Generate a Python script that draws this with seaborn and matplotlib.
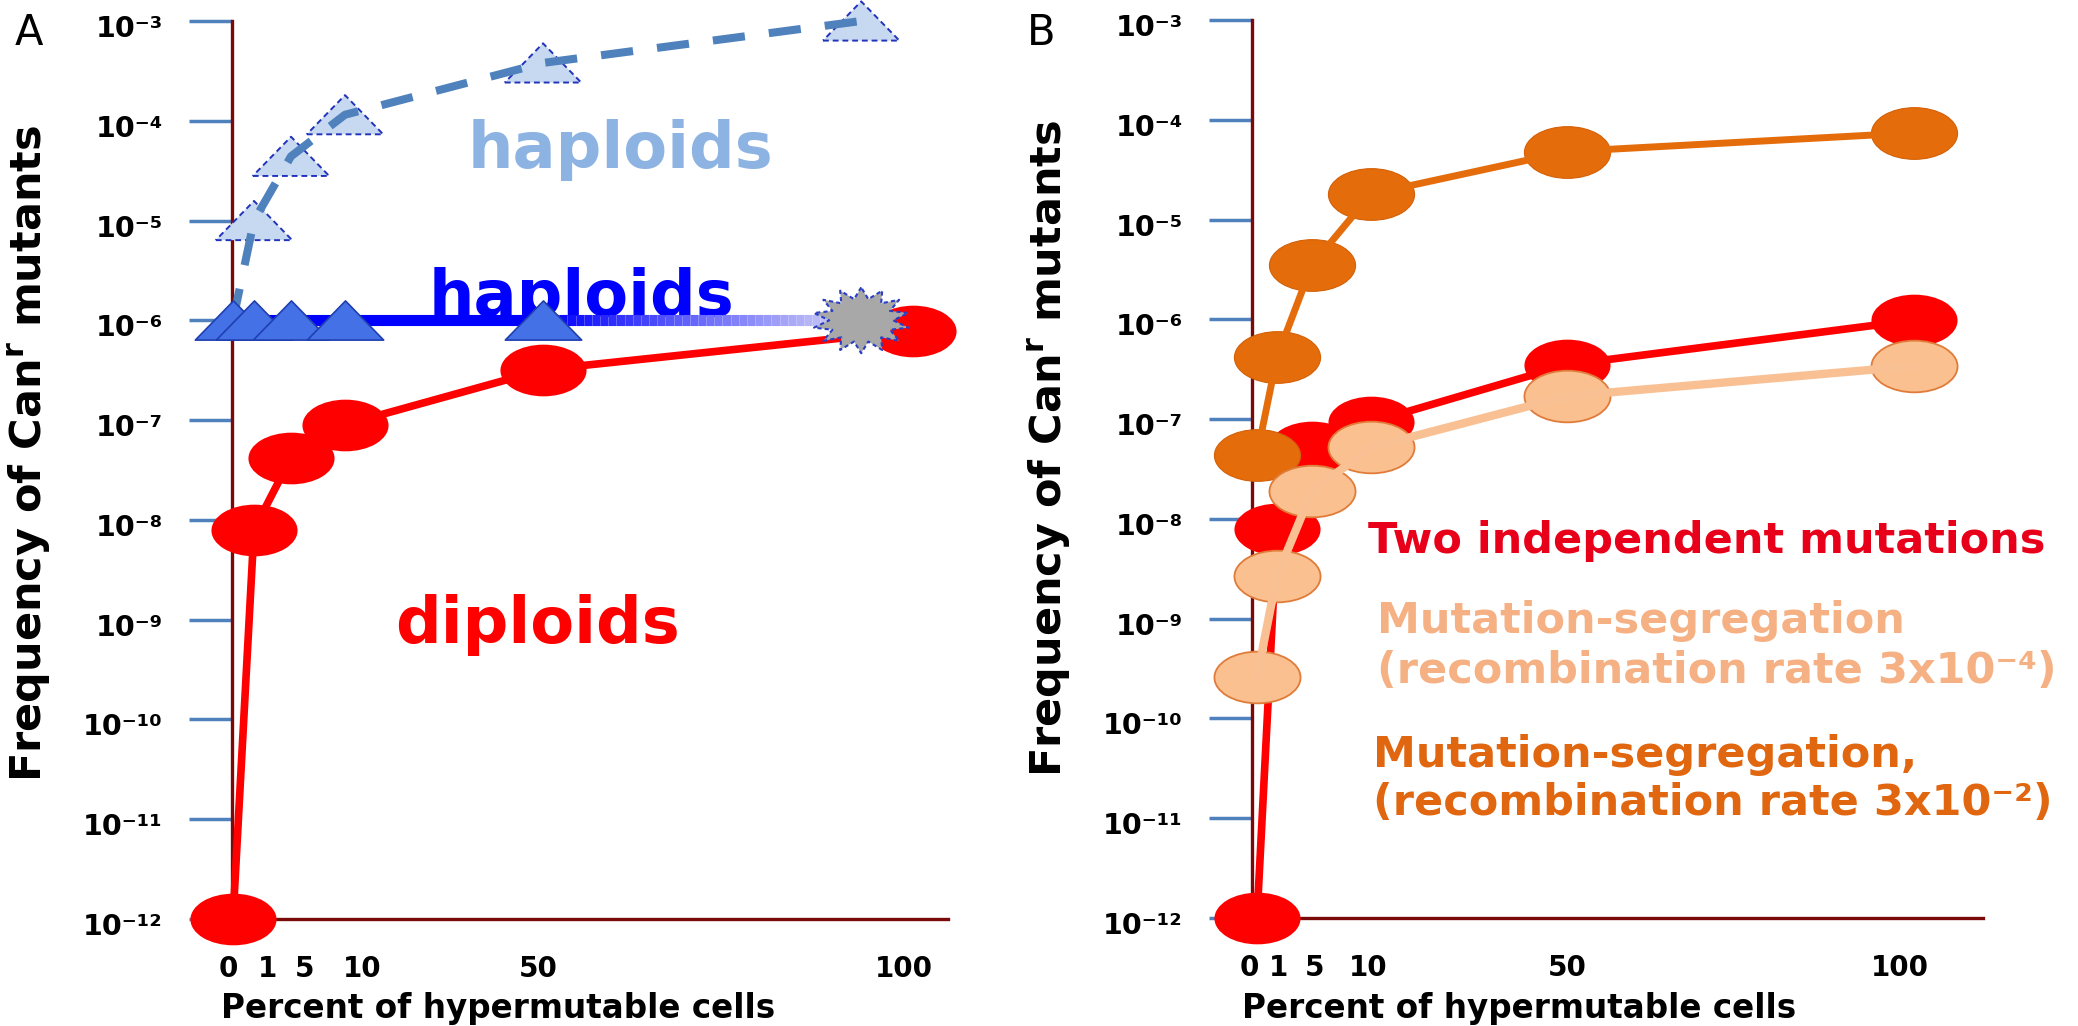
import numpy as np
import matplotlib
matplotlib.use("Agg")
import matplotlib.pyplot as plt
import matplotlib.patheffects as pe
from matplotlib.path import Path
from matplotlib.transforms import Affine2D, ScaledTranslation
from matplotlib.collections import LineCollection
from matplotlib.colors import LinearSegmentedColormap
from matplotlib.ticker import NullLocator
import seaborn as sns

# x: percent of hypermutable cells
pct = [0, 1, 5, 10, 50, 100]
pct_labels = ["0", "1", "5", "10", "50", "100"]
decades = [-12, -11, -10, -9, -8, -7, -6, -5, -4, -3]

# panel A
dip_a = [1e-12, 8e-9, 4.2e-8, 9e-8, 3.2e-7, 7.9e-7]
hap_x = [0, 1, 5, 10, 50, 93]
hap_y = [1e-6, 1e-6, 1e-6, 1e-6, 1e-6, 1e-6]
hap_light_y = [1e-6, 1e-5, 4.4e-5, 1.15e-4, 3.8e-4, 1e-3]

# panel B
two_mut = [1e-12, 8e-9, 5.2e-8, 9.3e-8, 3.5e-7, 9.8e-7]
seg_low = [2.6e-10, 2.7e-9, 1.9e-8, 5.2e-8, 1.7e-7, 3.4e-7]
seg_high = [4.4e-8, 4.2e-7, 3.5e-6, 1.8e-5, 4.8e-5, 7.4e-5]

sns.set_theme(style="white")
plt.rcParams["font.family"] = ["DejaVu Sans"]
plt.rcParams["mathtext.fontset"] = "dejavusans"

W, H = 2078, 1026
fig = plt.figure(figsize=(W / 100, H / 100), dpi=100)
fig.patch.set_facecolor("white")

ax_a = fig.add_axes([232 / W, (H - 919) / H, 716 / W, 898 / H])
ax_b = fig.add_axes([1252 / W, (H - 918) / H, 731 / W, 898 / H])

# hand-laid x axis of the original: piecewise linear spacing
knots = [-1000, 0, 1, 5, 10, 50, 100, 1000]
spread_a = [-20999, 1, 22, 59, 113, 311, 681, 7341]
spread_b = [-19995, 5, 25, 60, 119, 315, 662, 6908]
# the tick numbers were placed by hand, a little off the points (px)
nudge_a = [-5, 13, 14, 17, -5, -9]
nudge_b = [-8, 1, 3, -3, 0, -14]

# marker shapes
ellipse = Path.unit_circle().transformed(Affine2D().scale(1, 0.6))
tri = Path([(-1, -0.513), (1, -0.513), (0, 0.513), (-1, -0.513)], closed=True)
k = np.arange(28)
ang = np.pi / 2 + k * np.pi / 14
rad = np.where(k % 2 == 0, 1.0, 0.66)
sv = np.column_stack([rad * np.cos(ang), 0.68 * rad * np.sin(ang)])
star = Path(np.vstack([sv, sv[:1]]), closed=True)
ell_s = 62 ** 2
tri_s = 55 ** 2

sup = str.maketrans("-0123456789", "⁻⁰¹²³⁴⁵⁶⁷⁸⁹")
ytick_vals = [10.0 ** d for d in decades]
ytick_txt = ["10" + str(d).translate(sup) for d in decades]


def setup(ax, spread, width, nudge, lab_x, lab_yc, xlab_x, xlab_y):
    fwd = lambda v: np.interp(v, knots, spread)
    inv = lambda v: np.interp(v, spread, knots)
    ax.set_xscale("function", functions=(fwd, inv))
    ax.set_xlim(inv(0), inv(width))
    ax.set_yscale("log")
    ax.set_ylim(1e-12, 1e-3)
    ax.set_facecolor("none")
    ax.set_yticks(ytick_vals, ytick_txt, fontsize=20.5, fontweight="bold", color="black")
    ax.yaxis.set_minor_locator(NullLocator())
    ax.set_xticks(pct, pct_labels, fontsize=20, fontweight="bold", color="black")
    ax.xaxis.set_minor_locator(NullLocator())
    ax.tick_params(axis="y", left=True, direction="out", length=31, width=2.5,
                   color="#4f81bd", pad=19)
    ax.tick_params(axis="x", bottom=True, length=0, pad=26)
    shift = ScaledTranslation(0, -0.16, fig.dpi_scale_trans)
    for lab in ax.get_yticklabels():
        lab.set_verticalalignment("baseline")
        lab.set_transform(lab.get_transform() + shift)
    for lab, dx in zip(ax.get_xticklabels(), nudge):
        lab.set_transform(lab.get_transform()
                          + ScaledTranslation(dx / 100, 0, fig.dpi_scale_trans))
    for s in ["top", "right"]:
        ax.spines[s].set_visible(False)
    for s in ["left", "bottom"]:
        ax.spines[s].set_color("#7a0a0a")
        ax.spines[s].set_linewidth(2.4)
        ax.spines[s].set_zorder(1)
        ax.spines[s].set_path_effects([pe.SimplePatchShadow(offset=(2, -3), alpha=0.35),
                                       pe.Normal()])
    ax.set_ylabel(r"Frequency of Can$^{\mathbf{r}}$ mutants", fontsize=31,
                  fontweight="bold", color="black")
    ax.yaxis.set_label_coords(lab_x, lab_yc)
    ax.set_xlabel("Percent of hypermutable cells", fontsize=23.5, fontweight="bold",
                  color="black")
    ax.xaxis.set_label_coords(xlab_x, xlab_y)


def ftext(ax, x, y, s, color, size):
    ax.text(x / W, 1 - y / H, s, transform=fig.transFigure, color=color, fontsize=size,
            fontweight="bold", ha="left", va="baseline", zorder=1)


# ---------------- panel A ----------------
ax = ax_a
sns.scatterplot(x=pct, y=dip_a, marker=ellipse, s=ell_s, color="#ff0000", linewidth=0,
                zorder=3, clip_on=False, legend=False, ax=ax)
sns.lineplot(x=pct, y=dip_a, color="#ff0000", lw=5.5, zorder=3.5, clip_on=False,
             errorbar=None, ax=ax)

sns.scatterplot(x=hap_x[1:], y=hap_light_y[1:], marker=tri, s=tri_s, color="#c6d9f1",
                edgecolor="#2233bb", linewidth=1.4, linestyle=(0, (3, 2)), zorder=4,
                clip_on=False, legend=False, ax=ax)
sns.lineplot(x=hap_x, y=hap_light_y, color="#4f81bd", lw=5.8, zorder=4.5,
             clip_on=False, errorbar=None, ax=ax)
ax.lines[-1].set_linestyle((0, (4, 3)))

sns.lineplot(x=hap_x[:-1], y=hap_y[:-1], color="#0000ff", lw=8, zorder=5,
             clip_on=False, errorbar=None, ax=ax)
# fading end of the solid haploid line
fade = np.linspace(0, 1, 40)
gx = hap_x[-2] + (hap_x[-1] - hap_x[-2]) * fade
gy = hap_y[-2] * (hap_y[-1] / hap_y[-2]) ** fade
gp = np.column_stack([gx, gy]).reshape(-1, 1, 2)
cmap = LinearSegmentedColormap.from_list("fade", ["#0000ff", "#dcdcf6"])
lc = LineCollection(np.concatenate([gp[:-1], gp[1:]], axis=1), colors=cmap(fade[:-1]),
                    linewidths=8, capstyle="butt", zorder=5, clip_on=False)
ax.add_collection(lc, autolim=False)
sns.scatterplot(x=hap_x[:-1], y=hap_y[:-1], marker=tri, s=tri_s, color="#4472e6",
                edgecolor="#1f3fb0", linewidth=1.2, zorder=6, clip_on=False,
                legend=False, ax=ax)
sns.scatterplot(x=hap_x[-1:], y=hap_y[-1:], marker=star, s=68 ** 2, color="#a8a8a8",
                edgecolor="#2b3fc4", linewidth=1.5, linestyle=(0, (2, 1.5)), zorder=9,
                clip_on=False, legend=False, ax=ax)

setup(ax_a, spread_a, 716, nudge_a, -0.250, 0.518, 0.372, -0.081)
ftext(ax, 468, 168, "haploids", "#8db3e2", 46)
ftext(ax, 429, 316, "haploids", "#0000ff", 46)
ftext(ax, 395, 643, "diploids", "#ff0000", 46)

# ---------------- panel B ----------------
ax = ax_b
sns.scatterplot(x=pct, y=two_mut, marker=ellipse, s=ell_s, color="#ff0000", linewidth=0,
                zorder=2, clip_on=False, legend=False, ax=ax)
sns.lineplot(x=pct, y=two_mut, color="#ff0000", lw=5.5, zorder=2.5, clip_on=False,
             errorbar=None, ax=ax)
sns.scatterplot(x=pct, y=seg_high, marker=ellipse, s=ell_s, color="#e46c0a",
                edgecolor="#d46008", linewidth=0.8, zorder=3, clip_on=False,
                legend=False, ax=ax)
sns.lineplot(x=pct, y=seg_high, color="#e46c0a", lw=5, zorder=3.5, clip_on=False,
             errorbar=None, ax=ax)
sns.scatterplot(x=pct, y=seg_low, marker=ellipse, s=ell_s, color="#fac090",
                edgecolor="#e07b39", linewidth=1.3, zorder=4, clip_on=False,
                legend=False, ax=ax)
sns.lineplot(x=pct, y=seg_low, color="#f9c093", lw=6, zorder=4.5, clip_on=False,
             errorbar=None, ax=ax)

setup(ax_b, spread_b, 731, nudge_b, -0.245, 0.523, 0.366, -0.082)
ftext(ax, 1368, 553, "Two independent mutations", "#e8001a", 31)
ftext(ax, 1377, 633, "Mutation-segregation", "#f5b183", 31)
ftext(ax, 1377, 683, "(recombination rate 3x10⁻⁴)", "#f5b183", 31)
ftext(ax, 1373, 767, "Mutation-segregation,", "#e0660f", 31)
ftext(ax, 1373, 815, "(recombination rate 3x10⁻²)", "#e0660f", 31)

fig.text(15 / W, 1 - 45 / H, "A", fontsize=30, va="baseline", ha="left", color="black")
fig.text(1027 / W, 1 - 45 / H, "B", fontsize=30, va="baseline", ha="left", color="black")

fig.savefig("out.png", dpi=100, facecolor="white")
